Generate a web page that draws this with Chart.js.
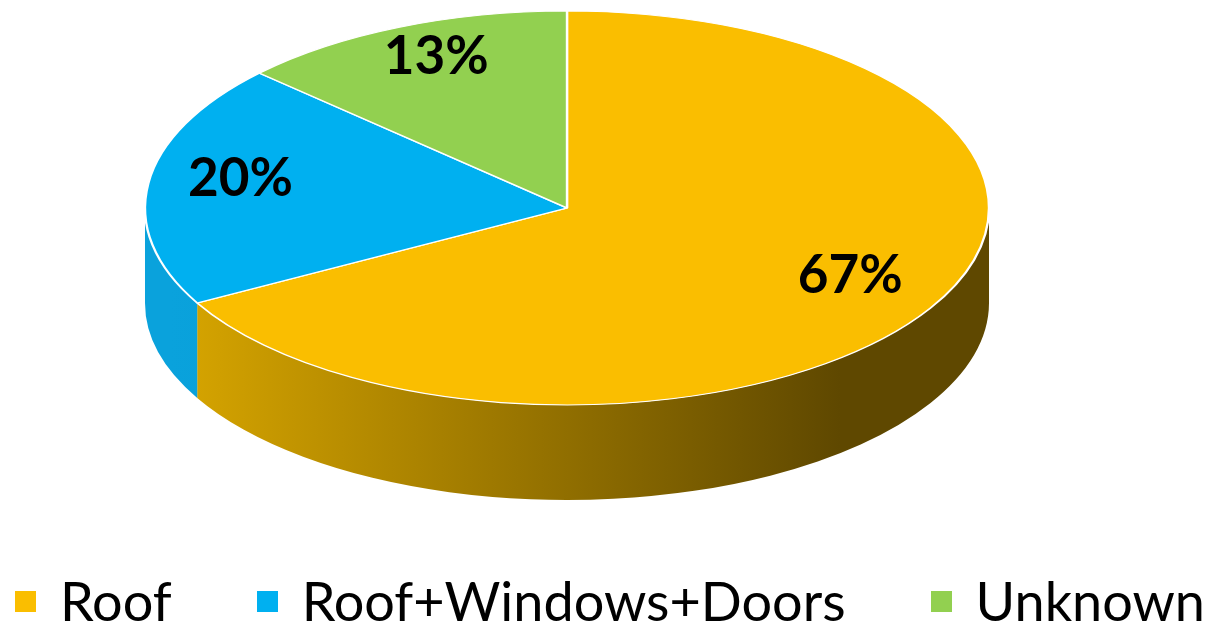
<!DOCTYPE html>
<html>
<head>
<meta charset="utf-8">
<script src="https://cdn.jsdelivr.net/npm/chart.js@4.4.1/dist/chart.umd.min.js"></script>
<style>
    html, body { margin: 0; padding: 0; background: #fff; }
    #wrap { position: relative; width: 1220px; height: 634px; }
    #legend {
        position: absolute; left: 0; top: 574px; width: 1220px;
        display: flex; justify-content: center; gap: 85px;
        font-family: Lato, "Open Sans", sans-serif; font-size: 54px; line-height: 54px; color: #000;
    }
    .item { display: flex; align-items: center; white-space: nowrap; }
    .box { width: 21px; height: 21px; margin-right: 24px; }
</style>
</head>
<body>
<div id="wrap">
    <canvas id="pieChart"></canvas>
    <div id="legend"></div>
</div>
<script>
// Data
const labels = ["Roof", "Roof+Windows+Doors", "Unknown"];
const values = [67, 20, 13];
const pctLabels = values.map((v) => v + "%");

// Styles
const topColors = ["#FABE00", "#00B0F0", "#92D050"];
const sideColors = [
    ["#D8A600", "#5F4800"],
    ["#0AA2DC", "#0090C4"],
    ["#7FBA40", "#6A9E32"],
];

// Ellipse geometry of the tilted pie (pixels)
const CX = 567, CY = 208, RX = 422, RY = 197, DEPTH = 95;
const LABEL_R = 0.78;
const LABEL_DY = -10;

const pie3d = {
    id: "pie3d",
    beforeDatasetsDraw(chart) {
        const c = chart.ctx;
        const arcs = chart.getDatasetMeta(0).data;

        // side walls, only the front half (angles 0..PI) can be seen
        arcs.forEach((arc, i) => {
            const a1 = Math.max(arc.startAngle, 0);
            const a2 = Math.min(arc.endAngle, Math.PI);
            if (a2 <= a1) return;
            const g = c.createLinearGradient(170, 0, 840, 0);
            g.addColorStop(0, sideColors[i][0]);
            g.addColorStop(1, sideColors[i][1]);
            c.beginPath();
            c.ellipse(CX, CY, RX, RY, 0, a1, a2, false);
            c.ellipse(CX, CY + DEPTH, RX, RY, 0, a2, a1, true);
            c.closePath();
            c.fillStyle = g;
            c.fill();
        });

        // squash the round pie into the top face ellipse
        const a = arcs[0];
        c.save();
        c.translate(CX, CY);
        c.scale(RX / a.outerRadius, RY / a.outerRadius);
        c.translate(-a.x, -a.y);
    },
    afterDatasetsDraw(chart) {
        const c = chart.ctx;
        c.restore();

        const arcs = chart.getDatasetMeta(0).data;
        c.save();
        c.font = "bold 53px Lato, 'Open Sans', sans-serif";
        c.fillStyle = "#000";
        c.textAlign = "center";
        c.textBaseline = "middle";
        arcs.forEach((arc, i) => {
            const mid = (arc.startAngle + arc.endAngle) / 2;
            const x = CX + RX * LABEL_R * Math.cos(mid);
            const y = CY + RY * LABEL_R * Math.sin(mid) + LABEL_DY;
            c.fillText(pctLabels[i], x, y);
        });
        c.restore();
    },
};

const pieChart = new Chart(document.getElementById("pieChart").getContext("2d"), {
    type: "pie",
    data: {
        labels,
        datasets: [
            {
                data: values,
                backgroundColor: topColors,
                borderColor: "#fff",
                borderWidth: 1.8,
            },
        ],
    },
    options: {
        responsive: true,
        maintainAspectRatio: false,
        animation: false,
        events: [],
        plugins: {
            legend: { display: false },
            tooltip: { enabled: false },
        },
    },
    plugins: [pie3d],
});

// Legend
const legend = document.getElementById("legend");
labels.forEach((name, i) => {
    const item = document.createElement("div");
    item.className = "item";
    item.innerHTML = `<span class="box" style="background:${topColors[i]}"></span><span>${name}</span>`;
    legend.appendChild(item);
});
</script>
</body>
</html>
